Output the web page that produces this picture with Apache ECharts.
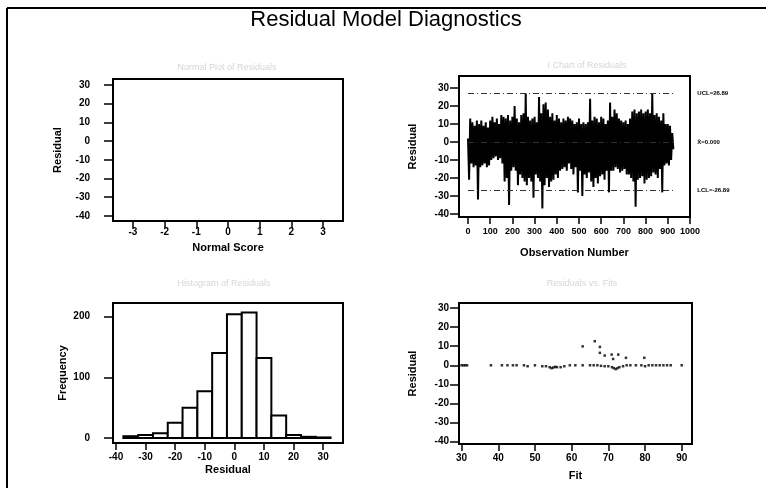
<!DOCTYPE html>
<html>
<head>
<meta charset="utf-8">
<script src="https://cdn.jsdelivr.net/npm/echarts@6/dist/echarts.min.js"></script>
<style>
  html, body { margin: 0; padding: 0; background: #fff; }
  #main { width: 766px; height: 488px; }
</style>
</head>
<body>
<div id="main"></div>
<script>
// tick labels
const residualTicks = [-40, -30, -20, -10, 0, 10, 20, 30];
const normalScoreTicks = [-3, -2, -1, 0, 1, 2, 3];
const obsTicks = [0, 100, 200, 300, 400, 500, 600, 700, 800, 900, 1000];
const histResidualTicks = [-40, -30, -20, -10, 0, 10, 20, 30];
const frequencyTicks = [0, 100, 200];
const fitTicks = [30, 40, 50, 60, 70, 80, 90];

const obsStep = 5;
const iChartResiduals = [
  2, -21, 13, -12, 11, -14, 9, -13, 12, -32,
  10, -14, 12, -13, 9, -12, 11, -14, 8, -13,
  12, -10, 14, -9, 11, -8, 13, -10, 10, -9,
  15, -12, 14, -22, 13, -20, 15, -35, 12, -16,
  14, -14, 20, -16, 13, -24, 11, -18, 15, -20,
  16, -22, 27, -24, 14, -20, 12, -22, 13, -31,
  14, -18, 11, -20, 25, -22, 16, -37, 21, -24,
  22, -20, 18, -25, 14, -22, 16, -21, 12, -18,
  15, -20, 13, -16, 11, -15, 13, -14, 12, -16,
  14, -12, 13, -15, 12, -18, 10, -14, 11, -28,
  13, -16, 10, -30, 11, -18, 10, -20, 11, -17,
  24, -22, 12, -25, 14, -20, 13, -23, 11, -19,
  14, -18, 13, -21, 10, -16, 12, -28, 22, -16,
  14, -16, 18, -14, 16, -15, 13, -17, 12, -16,
  11, -15, 12, -18, 10, -18, 13, -20, 17, -22,
  18, -36, 16, -21, 17, -20, 18, -19, 16, -23,
  17, -21, 18, -20, 16, -19, 27, -17, 15, -18,
  16, -20, 14, -15, 12, -28, 16, -13, 10, -12,
  10, -13, 9, -10, 5, -4
];
const ucl = 26.89;
const centerLine = 0;
const lcl = -26.89;

// histogram of residuals
const binWidth = 5;
const binMids = [-35, -30, -25, -20, -15, -10, -5, 0, 5, 10, 15, 20, 25, 30];
const binCounts = [3, 5, 8, 25, 50, 77, 140, 204, 207, 132, 37, 5, 2, 1];

// residuals vs fits (visible points)
const fitValues = [
  30, 30.5, 31, 31.5,
  38, 41, 42.5, 44, 45, 47, 48, 50,
  52, 53, 54, 54.5, 55, 55.5, 56, 57, 58, 59.5,
  61, 63, 65, 66, 67, 68, 69, 70,
  71, 71.5, 72, 72.5, 73, 74, 75, 76, 77.5, 79,
  80, 81, 82, 83, 84, 85, 86, 87, 90,
  63, 66.3, 67.7, 67.7, 69, 70.9, 71.3, 72.7, 74.8, 79.8
];
const fitResiduals = [
  0, 0, 0, 0,
  0, 0, 0, 0, 0, 0, -0.5, 0,
  -0.5, -0.5, -1, -1.5, -1.2, -0.8, -1, -1, -0.5, 0,
  0, 0, 0, 0, 0, -0.3, -0.5, -0.5,
  -1, -1.5, -2, -1.5, -1, -0.5, 0, 0, 0, 0,
  -0.5, 0, 0, 0, 0, 0, 0, 0, 0,
  9.9, 12.6, 9.6, 6.5, 5.1, 5.6, 3.3, 5.6, 3.9, 3.9
];

const FONT = 'Liberation Sans';

const axis = (o) => ({
  type: 'value',
  gridIndex: o.grid,
  min: o.min,
  max: o.max,
  name: o.name,
  nameLocation: 'middle',
  nameGap: o.nameGap,
  nameTextStyle: { color: '#000', fontSize: 11, fontWeight: 'bold', fontFamily: FONT },
  axisLine: { show: false, onZero: false },
  axisTick: { show: true, length: o.tickLen || 7, customValues: o.ticks, lineStyle: { color: '#000', width: 1.5 } },
  axisLabel: {
    customValues: o.ticks, margin: o.margin, color: '#000',
    formatter: (v) => String(v),
    fontSize: o.fontSize || 10, fontWeight: 'bold', fontFamily: FONT
  },
  splitLine: { show: false }
});

const gridBox = (left, top, width, height) => ({
  left, top, width, height, show: true, containLabel: false, outerBoundsMode: 'none',
  borderColor: '#000', borderWidth: 2, backgroundColor: 'transparent'
});

const panelTitle = (x, y, text) => ({
  type: 'text', x, y,
  style: { text, fill: '#d6d6d6', font: '9px "Liberation Sans"', textAlign: 'center', align: 'center', textVerticalAlign: 'middle', verticalAlign: 'middle' }
});

const lastObs = (iChartResiduals.length - 1) * obsStep;

const chart = echarts.init(document.getElementById('main'));
chart.setOption({
  animation: false,
  backgroundColor: '#fff',
  graphic: [
    { type: 'line', shape: { x1: 7, y1: 8, x2: 766, y2: 8 }, style: { stroke: '#000', lineWidth: 2 } },
    { type: 'line', shape: { x1: 7, y1: 8, x2: 7, y2: 488 }, style: { stroke: '#000', lineWidth: 2 } },
    {
      type: 'text', x: 386, y: 9,
      style: { text: 'Residual Model Diagnostics', fill: '#000', font: '22px "Liberation Sans"', textAlign: 'center', align: 'center', textVerticalAlign: 'top', verticalAlign: 'top' }
    },
    panelTitle(227, 68, 'Normal Plot of Residuals'),
    panelTitle(587, 66, 'I Chart of Residuals'),
    panelTitle(224, 284, 'Histogram of Residuals'),
    panelTitle(582, 284, 'Residuals vs. Fits')
  ],
  grid: [
    gridBox(113, 79, 230, 142),
    gridBox(459, 76, 231, 141),
    gridBox(113, 303, 230, 140),
    gridBox(459, 303, 233, 141)
  ],
  xAxis: [
    axis({ grid: 0, min: -3.63, max: 3.63, ticks: normalScoreTicks, name: 'Normal Score', nameGap: 21, margin: 6 }),
    axis({ grid: 1, min: -40.5, max: 1000, ticks: obsTicks, name: 'Observation Number', nameGap: 30, margin: 10, fontSize: 9 }),
    axis({ grid: 2, min: -41, max: 36.7, ticks: histResidualTicks, name: 'Residual', nameGap: 21, margin: 9 }),
    axis({ grid: 3, min: 29.3, max: 92.8, ticks: fitTicks, name: 'Fit', nameGap: 26, margin: 9 })
  ],
  yAxis: [
    axis({ grid: 0, min: -42.7, max: 33.2, ticks: residualTicks, name: 'Residual', nameGap: 50, margin: 23, tickLen: 9 }),
    axis({ grid: 1, min: -41.7, max: 36.7, ticks: residualTicks, name: 'Residual', nameGap: 41, margin: 10, tickLen: 9 }),
    axis({ grid: 2, min: -8.2, max: 222.6, ticks: frequencyTicks, name: 'Frequency', nameGap: 45, margin: 23, tickLen: 9 }),
    axis({ grid: 3, min: -41.2, max: 32.6, ticks: residualTicks, name: 'Residual', nameGap: 41, margin: 10, tickLen: 9 })
  ],
  series: [
    {
      type: 'line',
      xAxisIndex: 1, yAxisIndex: 1,
      data: iChartResiduals.map((v, i) => [i * obsStep, v]),
      symbol: 'none',
      lineStyle: { color: '#000', width: 2 },
      markLine: {
        silent: true,
        symbol: ['none', 'none'],
        data: [
          [{ coord: [0, ucl], label: { formatter: 'UCL=' + ucl.toFixed(2) } }, { coord: [lastObs, ucl] }],
          [{ coord: [0, centerLine], label: { formatter: 'X̄=' + centerLine.toFixed(3) } }, { coord: [lastObs, centerLine] }],
          [{ coord: [0, lcl], label: { formatter: 'LCL=' + lcl.toFixed(2) } }, { coord: [lastObs, lcl] }]
        ],
        lineStyle: { color: '#333', width: 1, type: [6, 3, 1, 3] },
        label: { position: 'end', distance: 24, color: '#000', fontSize: 6, fontWeight: 'bold', fontFamily: FONT }
      }
    },
    {
      type: 'custom',
      xAxisIndex: 2, yAxisIndex: 2,
      data: binMids.map((m, i) => [m, binCounts[i]]),
      encode: { x: 0, y: 1 },
      renderItem: (params, api) => {
        const mid = api.value(0);
        const cnt = api.value(1);
        const p0 = api.coord([mid - binWidth / 2, cnt]);
        const p1 = api.coord([mid + binWidth / 2, 0]);
        return {
          type: 'rect',
          shape: { x: p0[0], y: p0[1], width: p1[0] - p0[0], height: p1[1] - p0[1] },
          style: { fill: '#fff', stroke: '#000', lineWidth: 2 }
        };
      }
    },
    {
      type: 'scatter',
      xAxisIndex: 3, yAxisIndex: 3,
      data: fitValues.map((f, i) => [f, fitResiduals[i]]),
      symbol: 'rect',
      symbolSize: 2.5,
      itemStyle: { color: '#000' }
    }
  ]
});
</script>
</body>
</html>
